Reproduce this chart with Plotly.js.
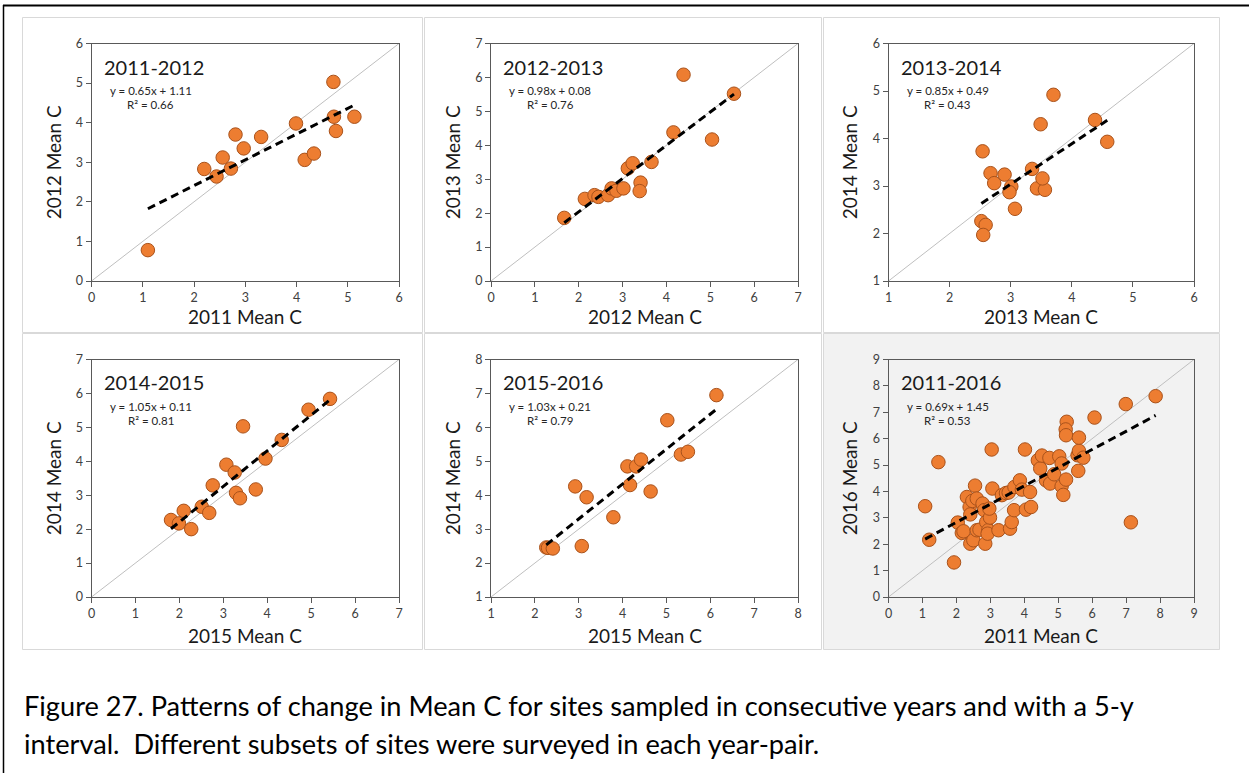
<!DOCTYPE html>
<html>
<head>
<meta charset="utf-8">
<script src="https://cdn.plot.ly/plotly-3.0.1.min.js"></script>
<style>
html,body{margin:0;padding:0;background:#fff;}
#chart{width:1249px;height:773px;}
</style>
</head>
<body>
<div id="chart"></div>
<script>
// ---------- DATA ----------
const panelLabels = ["2011-2012", "2012-2013", "2013-2014", "2014-2015", "2015-2016", "2011-2016"];
const xTitles = ["2011 Mean C", "2012 Mean C", "2013 Mean C", "2015 Mean C", "2015 Mean C", "2011 Mean C"];
const yTitles = ["2012 Mean C", "2013 Mean C", "2014 Mean C", "2014 Mean C", "2014 Mean C", "2016 Mean C"];
const slopes = [0.65, 0.98, 0.85, 1.05, 1.03, 0.69];
const intercepts = [1.11, 0.08, 0.49, 0.11, 0.21, 1.45];
const rSquared = [0.66, 0.76, 0.43, 0.81, 0.79, 0.53];
const axisMin = [0, 0, 1, 0, 1, 0];
const axisMax = [6, 7, 6, 7, 8, 9];

const x2011_2012 = [1.10, 2.20, 2.44, 2.56, 2.72, 2.81, 2.97, 3.31, 3.99, 4.16, 4.34, 4.72, 4.73, 4.77, 5.13];
const y2011_2012 = [0.78, 2.83, 2.64, 3.12, 2.84, 3.70, 3.35, 3.64, 3.98, 3.06, 3.22, 5.03, 4.15, 3.79, 4.15];

const x2012_2013 = [1.67, 2.14, 2.36, 2.45, 2.67, 2.75, 2.86, 3.02, 3.12, 3.23, 3.41, 3.39, 3.66, 4.16, 4.39, 5.04, 5.54];
const y2012_2013 = [1.86, 2.42, 2.53, 2.48, 2.53, 2.73, 2.66, 2.73, 3.32, 3.47, 2.90, 2.65, 3.51, 4.38, 6.08, 4.17, 5.52];

const x2013_2014 = [2.54, 2.67, 2.73, 2.90, 3.01, 2.98, 3.07, 2.52, 2.59, 2.55, 3.35, 3.43, 3.56, 3.52, 3.49, 3.70, 4.38, 4.58];
const y2013_2014 = [3.73, 3.27, 3.06, 3.24, 2.99, 2.87, 2.52, 2.26, 2.18, 1.97, 3.36, 2.95, 2.92, 3.16, 4.30, 4.92, 4.39, 3.93];

const x2014_2015 = [1.81, 1.99, 2.10, 2.27, 2.51, 2.68, 2.76, 3.07, 3.26, 3.29, 3.38, 3.45, 3.74, 3.96, 4.33, 4.94, 5.43];
const y2014_2015 = [2.27, 2.17, 2.54, 2.00, 2.66, 2.48, 3.29, 3.90, 3.67, 3.07, 2.91, 5.03, 3.17, 4.08, 4.63, 5.52, 5.84];

const x2015_2016 = [2.26, 2.30, 2.41, 3.07, 2.92, 3.18, 3.79, 4.11, 4.31, 4.17, 4.42, 4.64, 5.02, 5.33, 5.49, 6.14];
const y2015_2016 = [2.46, 2.45, 2.43, 2.50, 4.26, 3.94, 3.35, 4.85, 4.85, 4.30, 5.05, 4.11, 6.21, 5.20, 5.28, 6.95];

const x2011_2016 = [1.08, 1.20, 1.47, 1.93, 2.04, 2.16, 2.21, 2.31, 2.39, 2.41, 2.41, 2.50, 2.47, 2.55, 2.60, 2.60,
  2.68, 2.77, 2.82, 2.85, 2.88, 2.94, 2.99, 2.97, 2.92, 3.04, 3.06, 3.24, 3.34, 3.46, 3.54, 3.58,
  3.63, 3.70, 3.71, 3.87, 3.93, 4.02, 4.05, 4.17, 4.20, 4.40, 4.47, 4.52, 4.64, 4.76, 4.74, 4.88,
  5.03, 5.10, 5.10, 5.15, 5.23, 5.25, 5.22, 5.23, 5.57, 5.61, 5.61, 5.59, 5.74, 6.07, 6.99, 7.14, 7.87];
const y2011_2016 = [3.44, 2.17, 5.11, 1.31, 2.82, 2.43, 2.49, 3.79, 3.41, 3.13, 2.02, 2.15, 3.64, 4.22, 3.73, 2.53,
  2.55, 3.54, 3.29, 2.02, 2.84, 2.53, 3.01, 3.35, 2.40, 5.59, 4.11, 2.53, 3.86, 3.94, 3.96, 2.59,
  2.84, 3.29, 4.17, 4.42, 4.07, 5.59, 3.31, 3.98, 3.41, 5.18, 4.87, 5.36, 4.42, 4.30, 5.27, 4.65,
  5.33, 5.06, 4.20, 3.87, 4.45, 6.64, 6.35, 6.13, 5.37, 5.54, 6.04, 4.78, 5.28, 6.80, 7.31, 2.83, 7.61];

const captionLines = [
  "Figure 27. Patterns of change in Mean C for sites sampled in consecutive years and with a 5-y",
  "interval.  Different subsets of sites were surveyed in each year-pair."
];

// ---------- LAYOUT GEOMETRY (pixels) ----------
const W = 1249, H = 773;
const xs = [x2011_2012, x2012_2013, x2013_2014, x2014_2015, x2015_2016, x2011_2016];
const ys = [y2011_2012, y2012_2013, y2013_2014, y2014_2015, y2015_2016, y2011_2016];

const plotX = [[91.5, 399], [491, 798], [888.5, 1194]];
const plotY = [[43.5, 281], [359.5, 597]];
const boxX = [[22.5, 422.5], [424.5, 821.5], [823.5, 1219.5]];
const boxY = [[17.5, 332.5], [333.5, 649.5]];
const yTitleX = [53, 452, 849];
const xTitleY = [316, 635];

const px = v => v / W;
const py = v => 1 - v / H;

const FONT = "Lato, 'Open Sans', sans-serif";
const traces = [];
const layout = {
  width: W, height: H,
  margin: {l: 0, r: 0, t: 0, b: 0},
  paper_bgcolor: "#ffffff",
  plot_bgcolor: "rgba(0,0,0,0)",
  showlegend: false,
  font: {family: FONT, color: "#404040"},
  shapes: [],
  annotations: []
};

// outer frame (top & left lines)
layout.shapes.push({type: "line", xref: "paper", yref: "paper", x0: px(3), x1: 1, y0: py(5.5), y1: py(5.5),
  line: {color: "#000000", width: 2}, layer: "above"});
layout.shapes.push({type: "line", xref: "paper", yref: "paper", x0: px(3.5), x1: px(3.5), y0: py(5), y1: 0,
  line: {color: "#000000", width: 1.5}, layer: "above"});

for (let i = 0; i < 6; i++) {
  const col = i % 3, row = Math.floor(i / 3);
  const sfx = i === 0 ? "" : String(i + 1);
  const xa = "x" + sfx, ya = "y" + sfx;
  const lo = axisMin[i], hi = axisMax[i];

  // panel box
  layout.shapes.push({type: "rect", xref: "paper", yref: "paper", layer: "below",
    x0: px(boxX[col][0]), x1: px(boxX[col][1]), y0: py(boxY[row][1]), y1: py(boxY[row][0]),
    fillcolor: i === 5 ? "#f2f2f2" : "#ffffff", line: {color: "#d9d9d9", width: 1}});

  const axCommon = {
    range: [lo, hi], dtick: 1, tick0: 0, showgrid: false, zeroline: false,
    showline: true, linecolor: "#595959", linewidth: 1, mirror: true,
    ticks: "outside", ticklen: 5, tickcolor: "#595959", tickwidth: 1,
    tickfont: {family: FONT, size: 12.5, color: "#404040"}, fixedrange: true
  };
  layout["xaxis" + sfx] = Object.assign({}, axCommon, {
    domain: [px(plotX[col][0]), px(plotX[col][1])], anchor: ya
  });
  layout["yaxis" + sfx] = Object.assign({}, axCommon, {
    domain: [py(plotY[row][1]), py(plotY[row][0])], anchor: xa
  });

  // 1:1 line
  traces.push({type: "scatter", mode: "lines", x: [lo, hi], y: [lo, hi], xaxis: xa, yaxis: ya,
    line: {color: "#bfbfbf", width: 1}, hoverinfo: "skip"});
  // points
  traces.push({type: "scatter", mode: "markers", x: xs[i], y: ys[i], xaxis: xa, yaxis: ya,
    marker: {color: "#ED7D31", size: 13.5, line: {color: "#A9521B", width: 1}}});
  // trend line
  const xmin = Math.min(...xs[i]), xmax = Math.max(...xs[i]);
  traces.push({type: "scatter", mode: "lines", x: [xmin, xmax],
    y: [slopes[i] * xmin + intercepts[i], slopes[i] * xmax + intercepts[i]], xaxis: xa, yaxis: ya,
    line: {color: "#000000", width: 3, dash: "8px,5px"}, hoverinfo: "skip"});

  const pl = plotX[col][0], pt = plotY[row][0];
  // panel label
  layout.annotations.push({xref: "paper", yref: "paper", x: px(pl + 10), y: py(pt + 23),
    xanchor: "left", yanchor: "middle", showarrow: false, text: panelLabels[i],
    font: {family: FONT, size: 20, color: "#1a1a1a"}});
  // equation
  layout.annotations.push({xref: "paper", yref: "paper", x: px(pl + 59), y: py(pt + 47),
    xanchor: "center", yanchor: "middle", showarrow: false,
    text: "y = " + slopes[i].toFixed(2) + "x + " + intercepts[i].toFixed(2),
    font: {family: FONT, size: 11.5, color: "#262626"}});
  layout.annotations.push({xref: "paper", yref: "paper", x: px(pl + 59), y: py(pt + 61),
    xanchor: "center", yanchor: "middle", showarrow: false,
    text: "R² = " + rSquared[i].toFixed(2),
    font: {family: FONT, size: 11.5, color: "#262626"}});
  // axis titles
  layout.annotations.push({xref: "paper", yref: "paper", x: px((plotX[col][0] + plotX[col][1]) / 2), y: py(xTitleY[row]),
    xanchor: "center", yanchor: "middle", showarrow: false, text: xTitles[i],
    font: {family: FONT, size: 19, color: "#1a1a1a"}});
  layout.annotations.push({xref: "paper", yref: "paper", x: px(yTitleX[col]), y: py((plotY[row][0] + plotY[row][1]) / 2),
    xanchor: "center", yanchor: "middle", showarrow: false, text: yTitles[i], textangle: -90,
    font: {family: FONT, size: 19, color: "#1a1a1a"}});
}

// caption
const captionY = [705, 743];
captionLines.forEach((t, k) => {
  layout.annotations.push({xref: "paper", yref: "paper", x: px(22), y: py(captionY[k]),
    xanchor: "left", yanchor: "middle", showarrow: false, text: t,
    font: {family: FONT, size: 27.2, color: "#000000"}});
});

Plotly.newPlot("chart", traces, layout, {displayModeBar: false, staticPlot: true});
</script>
</body>
</html>
